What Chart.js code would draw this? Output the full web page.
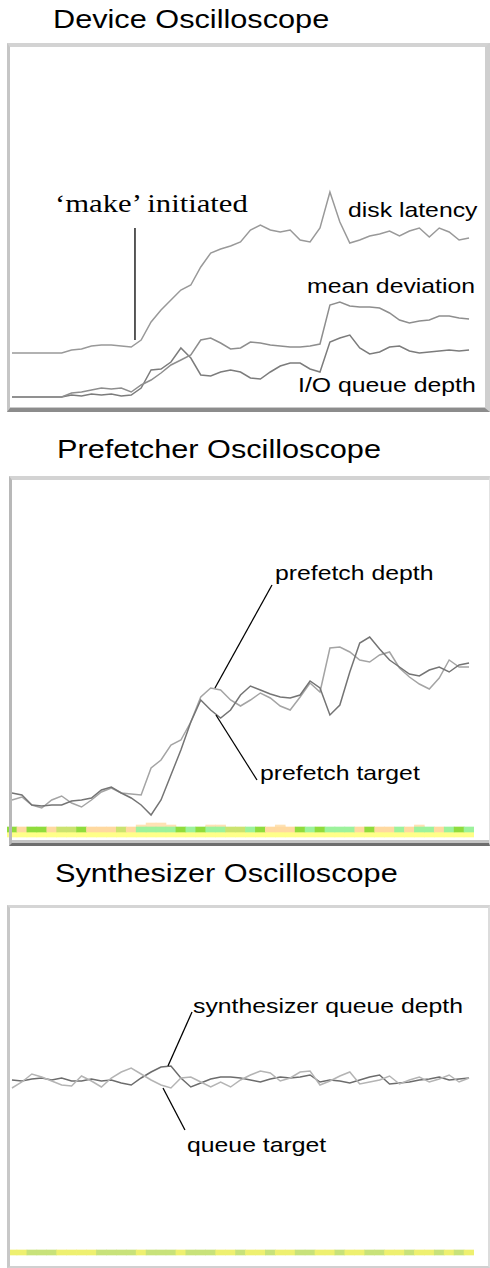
<!DOCTYPE html>
<html><head><meta charset="utf-8">
<script src="https://cdn.jsdelivr.net/npm/chart.js@4.4.1/dist/chart.umd.min.js"></script>
<style>
html,body{margin:0;padding:0;background:#fff;}
body{position:relative;width:490px;height:1268px;overflow:hidden;font-family:"Liberation Sans",Arial,sans-serif;}
.t{position:absolute;white-space:nowrap;transform-origin:0 0;transform:scaleX(1.18);color:#000;line-height:1;}
.title{font-size:26px;}
.lab{font-size:21px;}
.serif{font-family:"Liberation Serif","Times New Roman",serif;font-size:26px;}
.frame{position:absolute;box-sizing:border-box;pointer-events:none;z-index:2;}
canvas{position:absolute;z-index:1;}
</style></head><body>

<div class="t title" style="left:53px;top:6px;">Device Oscilloscope</div>
<div class="t title" style="left:57px;top:436px;">Prefetcher Oscilloscope</div>
<div class="t title" style="left:55px;top:860px;">Synthesizer Oscilloscope</div>

<div class="frame" style="left:7px;top:43px;width:483px;height:369px;border-top:4px solid #d3d3d3;border-left:3px solid #c6c6c6;border-right:5px solid #cfcfcf;border-bottom:4px solid #8c8c8c;box-shadow:inset 0 -1px 0 #cacaca;"></div>
<div class="frame" style="left:9px;top:476px;width:481px;height:370px;border-top:4px solid #d3d3d3;border-left:3px solid #b8b8b8;border-right:1px solid #e2e2e2;border-bottom:3px solid #6e6e6e;box-shadow:inset 0 -3px 0 #c4c4c4;"></div>
<div class="frame" style="left:7px;top:905px;width:483px;height:363px;border-top:3px solid #d5d5d5;border-left:3px solid #c8c8c8;border-right:2px solid #dcdcdc;border-bottom:2px solid #d0d0d0;"></div>

<canvas id="c1" width="467" height="360" style="left:7px;top:47px;"></canvas>
<canvas id="c2" width="467" height="360" style="left:7px;top:480px;"></canvas>
<canvas id="c3" width="467" height="357" style="left:7px;top:908px;"></canvas>

<div class="t serif" style="left:55px;top:191px;">‘make’ initiated</div>
<div class="t lab" style="left:348px;top:199px;">disk latency</div>
<div class="t lab" style="left:307px;top:275px;">mean deviation</div>
<div class="t lab" style="left:298px;top:374px;">I/O queue depth</div>
<div class="t lab" style="left:275px;top:562px;">prefetch depth</div>
<div class="t lab" style="left:260px;top:762px;">prefetch target</div>
<div class="t lab" style="left:193px;top:995px;">synthesizer queue depth</div>
<div class="t lab" style="left:187px;top:1134px;">queue target</div>

<script>
// sample index (time steps)
const samples = Array.from({length: 47}, (_, i) => i);

// Device oscilloscope
const diskLatency  = [54,54,54,54,54,54,57,58,61,62,62,61,60,67,85,97,107,117,122,140,154,158,161,165,177,182,177,175,177,167,165,179,215,185,164,167,171,173,176,171,176,179,170,179,175,167,169];
const meanDeviation = [10,10,10,10,10,10,14,15,17,19,18,19,15,22,27,34,42,47,52,67,69,64,58,59,65,64,62,61,60,60,61,63,102,105,101,100,100,99,94,87,84,86,87,91,91,89,88];
const ioQueueDepth  = [10,10,10,10,10,10,12,11,13,12,13,11,12,19,37,38,45,59,49,32,31,35,37,35,29,28,35,41,44,44,38,35,65,69,72,59,53,55,60,61,56,54,55,56,57,56,57];

// Prefetcher oscilloscope
const prefetchTarget = [47,45,35,34,35,35,39,40,42,50,53,47,42,35,25,40,65,90,118,140,130,122,130,145,154,150,146,143,142,145,159,152,125,135,168,197,203,191,180,173,166,164,170,173,168,175,177];
const prefetchDepth  = [40,43,35,32,40,44,37,33,40,48,52,47,46,45,72,80,95,100,118,143,152,150,140,134,140,147,142,134,130,143,157,148,192,193,188,180,178,185,188,172,163,156,151,162,180,173,173];
const prefetchState  = ['g','p','g','g','p','y','y','g','p','p','p','y','p','m','m','m','m','g','m','g','m','m','y','y','m','g','p','p','p','g','m','g','m','m','m','p','g','p','p','m','p','m','m','p','m','g','m'];
const prefetchBurst  = [0,0,0,0,0,0,0,0,0,0,0,0,0,1,2,2,1,0,0,0,1,1,0,0,0,0,0,1,0,0,0,0,0,0,0,0,0,0,0,0,0,1,0,0,0,0,0];

// Synthesizer oscilloscope
const synthQueueDepth = [185,184,186,187,185,187,184,184,186,184,185,182,180,187,193,198,199,187,178,182,186,188,188,187,185,183,186,188,187,188,190,183,185,184,182,185,188,190,181,182,183,185,186,188,185,186,187];
const synthQueueTarget = [177,183,191,188,184,180,179,189,184,178,187,193,197,191,185,180,177,187,188,183,178,183,178,185,190,194,192,184,187,193,194,180,184,189,193,181,183,185,189,181,185,188,183,186,190,183,187];
const synthState = ['y','y','g','g','g','y','y','y','y','g','g','g','g','y','g','g','g','y','g','g','g','y','y','g','y','y','g','y','y','g','g','y','y','g','y','y','g','g','y','y','g','y','y','g','y','g','y'];

const stateColors = {g:'#8fdc3c', p:'#ffd9a0', m:'#9cf29c', y:'#cbe36f'};
const synthColors = {y:'#eef070', g:'#c8e27a'};

const leaderPlugin = {
  id: 'leaders',
  afterDatasetsDraw(chart, args, opts) {
    const {ctx, scales: {x, y}} = chart;
    ctx.save();
    ctx.strokeStyle = '#000';
    ctx.lineWidth = 1.3;
    (opts.lines || []).forEach(l => {
      ctx.beginPath();
      ctx.moveTo(x.getPixelForValue(l[0]), y.getPixelForValue(l[1]));
      ctx.lineTo(x.getPixelForValue(l[2]), y.getPixelForValue(l[3]));
      ctx.stroke();
    });
    ctx.restore();
  }
};

function opts(ymax, lines) {
  return {
    responsive: false, animation: false, events: [],
    layout: {padding: 0},
    plugins: {legend: {display: false}, tooltip: {enabled: false}, leaders: {lines: lines}},
    scales: {
      x: {display: false, offset: true},
      y: {display: false, min: 0, max: ymax}
    }
  };
}
function line(label, data, color) {
  return {type: 'line', label, data, borderColor: color, borderWidth: 1.5, pointRadius: 0, tension: 0, fill: false, order: 1};
}
function band(label, data, colors) {
  return {type: 'bar', label, data, backgroundColor: colors, borderWidth: 0, barPercentage: 1, categoryPercentage: 1, grouped: false, order: 3};
}

new Chart(document.getElementById('c1'), {
  type: 'line',
  data: {labels: samples, datasets: [
    line('disk latency', diskLatency, '#999999'),
    line('mean deviation', meanDeviation, '#8e8e8e'),
    line('I/O queue depth', ioQueueDepth, '#7c7c7c')
  ]},
  options: opts(360, [[12.38, 179, 12.38, 67]]),
  plugins: [leaderPlugin]
});

new Chart(document.getElementById('c2'), {
  type: 'line',
  data: {labels: samples, datasets: [
    band('status', prefetchState.map(() => [8, 13]), prefetchState.map(s => stateColors[s])),
    band('burst', prefetchBurst.map(b => b ? [13, 13 + 2 * b] : null), '#ffe2b4'),
    band('idle', prefetchState.map(() => [3, 8]), '#ffff88'),
    line('prefetch target', prefetchTarget, '#747474'),
    line('prefetch depth', prefetchDepth, '#a4a4a4')
  ]},
  options: opts(360, [[26.17, 255, 20.43, 152], [20.53, 125, 24.66, 60]]),
  plugins: [leaderPlugin]
});

new Chart(document.getElementById('c3'), {
  type: 'line',
  data: {labels: samples, datasets: [
    band('status', synthState.map(() => [10, 15]), synthState.map(s => synthColors[s])),
    line('queue target', synthQueueTarget, '#b4b4b4'),
    line('synthesizer queue depth', synthQueueDepth, '#6c6c6c')
  ]},
  options: opts(357, [[15.7, 199, 18.12, 253], [15.2, 177, 17.41, 135]]),
  plugins: [leaderPlugin]
});
</script>
</body></html>
